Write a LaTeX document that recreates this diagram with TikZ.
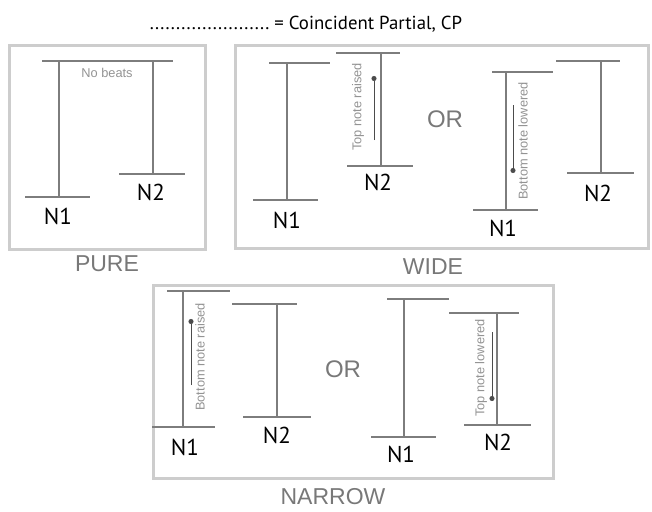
\documentclass[tikz,border=0pt]{standalone}
\usepackage{fontspec}
\setmainfont{PT Sans}
\newfontfamily\helv{Liberation Sans}
\usetikzlibrary{positioning,arrows.meta}
\definecolor{framegray}{RGB}{205,205,205}
\definecolor{tonegray}{RGB}{125,125,125}
\definecolor{labelgray}{RGB}{120,120,120}

\begin{document}
\begin{tikzpicture}[x=0.5pt,y=0.5pt]
		\tikzstyle{frame}=[draw=framegray, line width=1.5pt]
		\tikzstyle{tone}=[tonegray, line width=1.1pt]
		\tikzstyle{nudge}=[black!70, line width=0.5pt, -{Circle[length=2.5pt]}]
		\tikzstyle{notename}=[inner sep=0pt, font=\fontsize{11.5}{13}\selectfont]
		\tikzstyle{boxname}=[inner sep=0pt, labelgray, font=\helv\fontsize{11.5}{13}\selectfont]
		\tikzstyle{remark}=[inner sep=0pt, labelgray!80, font=\helv\fontsize{6.4}{7}\selectfont]
		\useasboundingbox (0,0) rectangle (652,-511);
		\node [inner sep=0pt, font=\fontsize{9.4}{11}\selectfont] (key) at (306,-24) {.......................\ = Coincident Partial, CP};
		% pure
		\draw [frame] (9,-45) rectangle (205,-249);
		\draw [tone] (42,-61) -- (173,-61);
		\draw [tone] (59,-61) -- (59,-197);
		\draw [tone] (25,-197) -- (90,-197);
		\draw [tone] (153,-61) -- (153,-174);
		\draw [tone] (119,-174) -- (185,-174);
		\node [remark] (nobeats) at (107,-73) {No beats};
		\node [notename] (pureA) at (58,-216) {N1};
		\node [notename] (pureB) at (151,-192) {N2};
		\node [boxname] (pure) at (107,-264) {PURE};
		% wide
		\draw [frame] (235,-45) rectangle (648,-248);
		\draw [tone] (269,-63) -- (330,-63);
		\draw [tone] (287,-63) -- (287,-200);
		\draw [tone] (253,-200) -- (318,-200);
		\node [notename] (wideA) at (287,-220) {N1};
		\draw [tone] (336,-53) -- (400,-53);
		\draw [tone] (381,-53) -- (381,-166);
		\draw [tone] (347,-166) -- (413,-166);
		\node [notename] (wideB) at (378,-182) {N2};
		\node [remark, rotate=90] (topup) at (358,-107) {Top note raised};
		\draw [nudge] (374,-140) -- (374,-76);
		\node [boxname, font=\helv\fontsize{12}{14}\selectfont] (wideor) at (445,-119) {OR};
		\draw [tone] (492,-72) -- (553,-72);
		\draw [tone] (506,-72) -- (506,-210);
		\draw [tone] (473,-210) -- (538,-210);
		\node [notename] (wideC) at (503,-228) {N1};
		\node [remark, rotate=90] (botdown) at (523,-141) {Bottom note lowered};
		\draw [nudge] (513,-105) -- (513,-173);
		\draw [tone] (556,-61) -- (620,-61);
		\draw [tone] (601,-61) -- (601,-173);
		\draw [tone] (567,-173) -- (634,-173);
		\node [notename] (wideD) at (598,-193) {N2};
		\node [boxname] (wide) at (433,-267) {WIDE};
		% narrow
		\draw [frame] (153,-285) rectangle (553,-478);
		\draw [tone] (167,-291) -- (230,-291);
		\draw [tone] (183,-291) -- (183,-427);
		\draw [tone] (152,-427) -- (215,-427);
		\node [notename] (narrowA) at (185,-447) {N1};
		\node [remark, rotate=90] (botup) at (200,-357) {Bottom note raised};
		\draw [nudge] (191,-385) -- (191,-319);
		\draw [tone] (232,-304) -- (297,-304);
		\draw [tone] (277,-304) -- (277,-417);
		\draw [tone] (243,-417) -- (311,-417);
		\node [notename] (narrowB) at (277,-435) {N2};
		\node [boxname, font=\helv\fontsize{12}{14}\selectfont] (narrowor) at (343,-369) {OR};
		\draw [tone] (387,-299) -- (449,-299);
		\draw [tone] (404,-299) -- (404,-437);
		\draw [tone] (371,-437) -- (436,-437);
		\node [notename] (narrowC) at (401,-454) {N1};
		\draw [tone] (449,-313) -- (519,-313);
		\draw [tone] (497,-313) -- (497,-425);
		\draw [tone] (464,-425) -- (531,-425);
		\node [notename] (narrowD) at (498,-442) {N2};
		\node [remark, rotate=90] (topdown) at (481,-368) {Top note lowered};
		\draw [nudge] (492,-332) -- (492,-401);
		\node [boxname] (narrow) at (333,-497) {NARROW};
\end{tikzpicture}
\end{document}
